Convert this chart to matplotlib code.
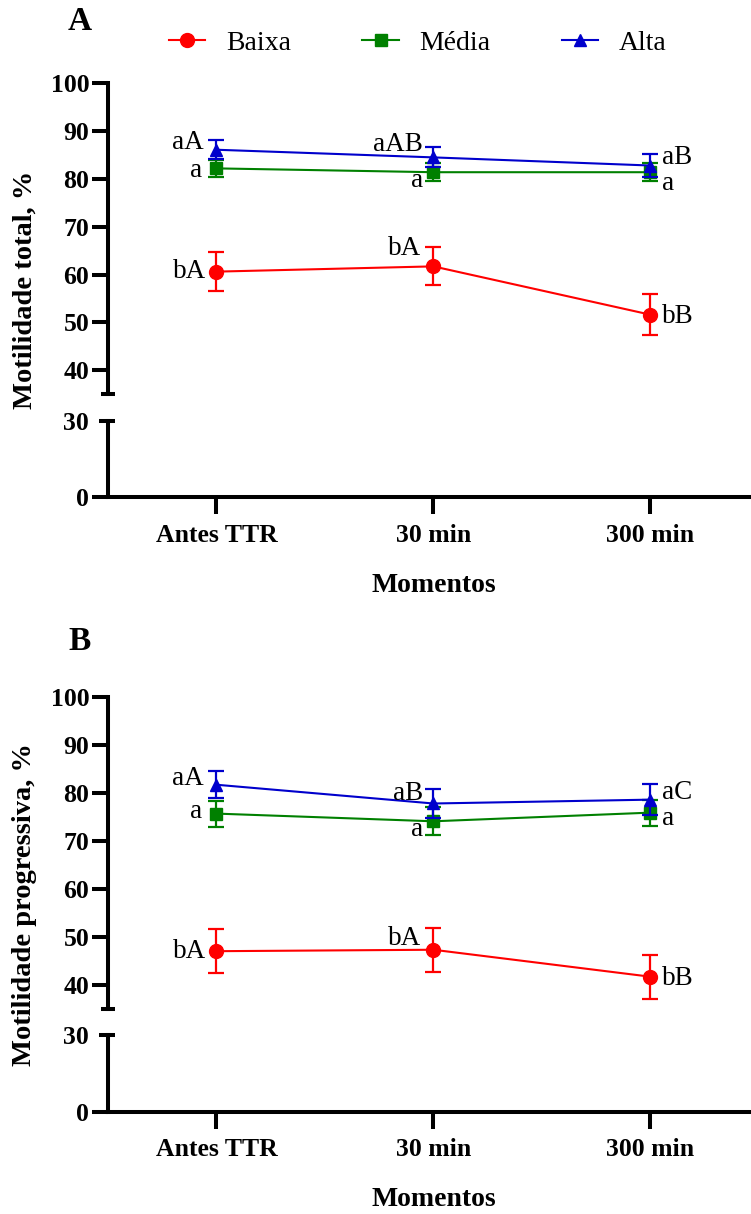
import matplotlib
matplotlib.use("Agg")
import matplotlib.pyplot as plt

plt.rcParams['font.family'] = ['Liberation Serif', 'DejaVu Serif']

# ---------------- data ----------------
categories = ["Antes TTR", "30 min", "300 min"]
series_names = ["Baixa", "Média", "Alta"]
colors = ["#FF0000", "#008000", "#0000CC"]
markers = ["o", "s", "^"]

# Panel A: Motilidade total
total_baixa = [60.6, 61.7, 51.6]
total_media = [82.2, 81.4, 81.4]
total_alta = [86.1, 84.5, 82.8]
total_baixa_err = [4.1, 4.0, 4.3]
total_media_err = [1.8, 1.9, 1.9]
total_alta_err = [2.0, 2.1, 2.4]
total_letters_baixa = ["bA", "bA", "bB"]
total_letters_media = ["a", "a", "a"]
total_letters_alta = ["aA", "aAB", "aB"]

# Panel B: Motilidade progressiva
prog_baixa = [47.1, 47.4, 41.8]
prog_media = [75.7, 74.1, 75.9]
prog_alta = [81.7, 77.8, 78.6]
prog_baixa_err = [4.6, 4.6, 4.6]
prog_media_err = [2.7, 2.9, 2.7]
prog_alta_err = [2.8, 3.0, 3.2]
prog_letters_baixa = ["bA", "bA", "bB"]
prog_letters_media = ["a", "a", "a"]
prog_letters_alta = ["aA", "aB", "aC"]

upper_ticks = [40, 50, 60, 70, 80, 90, 100]
lower_ticks = [0, 30]

# ---------------- layout ----------------
W, H = 751, 1214
fig = plt.figure(figsize=(W / 100, H / 100), dpi=100)

def fx(px):
    return px / W

def fy(py):
    return 1 - py / H

LW = 2.9
TICKFS = 18.5
ANNFS = 19.5

# label offsets in pixels (dx, dy) relative to marker; ha  (order: baixa, media, alta)
offA = {
    0: [(-10, 0, 'right'), (-14, -2, 'right'), (-13, 7, 'right')],
    1: [(-12, 18, 'right'), (-10, -8, 'right'), (-10, 13, 'right')],
    2: [(12, -2, 'left'), (12, -11, 'left'), (12, 8, 'left')],
}
offB = {
    0: [(-10, 0, 'right'), (-14, 2, 'right'), (-13, 6, 'right')],
    1: [(-12, 11, 'right'), (-10, -8, 'right'), (-10, 10, 'right')],
    2: [(12, -2, 'left'), (12, -6, 'left'), (12, 7, 'left')],
}

def make_panel(top_px, brk_top_px, brk_bot_px, bot_px, vals, errs, letters, offs, ylabel, letter, letter_y):
    left, right = 108, 750
    ax_t = fig.add_axes([fx(left), fy(brk_top_px), fx(right - left), (brk_top_px - top_px) / H])
    ax_b = fig.add_axes([fx(left), fy(bot_px), fx(right - left), (bot_px - brk_bot_px) / H])
    x = list(range(len(categories)))
    handles = []
    for ax in (ax_t, ax_b):
        for i in range(3):
            ax.errorbar(x, vals[i], yerr=errs[i], fmt='none', ecolor=colors[i],
                        elinewidth=1.6, capsize=5.5, capthick=1.6, zorder=3 + i)
            h, = ax.plot(x, vals[i], color=colors[i], marker=markers[i], lw=1.5,
                         markersize=10 if markers[i] == 'o' else 9, zorder=3 + i,
                         label=series_names[i])
            if ax is ax_t:
                handles.append(h)
        ax.set_xlim(-0.5, 2.46)
        for s in ('top', 'right'):
            ax.spines[s].set_visible(False)
        ax.spines['left'].set_linewidth(LW)
        ax.spines['bottom'].set_linewidth(LW)
        ax.tick_params(axis='y', length=11.5, width=LW, labelsize=TICKFS, pad=2)
    ax_t.set_ylim(35, 100)
    ax_t.set_yticks(upper_ticks)
    ax_t.set_yticklabels([str(t) for t in upper_ticks], fontweight='bold', fontsize=TICKFS)
    ax_t.spines['bottom'].set_visible(False)
    ax_t.set_xticks([])
    ax_b.set_ylim(0, 30)
    ax_b.set_yticks(lower_ticks)
    ax_b.set_yticklabels([str(t) for t in lower_ticks], fontweight='bold', fontsize=TICKFS)
    ax_b.yaxis.get_major_ticks()[1].tick1line.set_visible(False)
    ax_b.set_xticks(x)
    ax_b.set_xticklabels(categories, fontweight='bold', fontsize=TICKFS)
    ax_b.tick_params(axis='x', length=12, width=LW, pad=7)
    # break caps
    cap = 7 / (right - left)
    ax_t.plot([-cap, cap], [0, 0], transform=ax_t.transAxes, color='black', lw=LW,
              clip_on=False, solid_capstyle='butt')
    ax_b.plot([-cap * 1.3, cap], [1, 1], transform=ax_b.transAxes, color='black', lw=LW,
              clip_on=False, solid_capstyle='butt')
    # letters
    for j in range(3):
        for i in range(3):
            dx, dy, ha = offs[j][i]
            ax_t.annotate(letters[i][j], (x[j], vals[i][j]), xytext=(dx * 0.72, dy * 0.72),
                          textcoords='offset points', ha=ha, va='center',
                          fontsize=ANNFS, zorder=10)
    # labels
    mid = (top_px + bot_px) / 2
    fig.text(fx(25), fy(mid), ylabel, rotation=90, ha='center', va='center',
             fontsize=20.5, fontweight='bold')
    fig.text(fx(434), fy(bot_px + 88), "Momentos", ha='center', va='center',
             fontsize=20, fontweight='bold')
    fig.text(fx(79.5), fy(letter_y), letter, ha='center', va='center',
             fontsize=24, fontweight='bold')
    return handles

hA = make_panel(83.3, 394, 420.7, 497.3,
                [total_baixa, total_media, total_alta],
                [total_baixa_err, total_media_err, total_alta_err],
                [total_letters_baixa, total_letters_media, total_letters_alta],
                offA, "Motilidade total, %", "A", 21)
make_panel(696.7, 1009.4, 1035, 1112,
           [prog_baixa, prog_media, prog_alta],
           [prog_baixa_err, prog_media_err, prog_alta_err],
           [prog_letters_baixa, prog_letters_media, prog_letters_alta],
           offB, "Motilidade progressiva, %", "B", 642)

fig.legend(handles=hA, labels=series_names, loc='center', bbox_to_anchor=(fx(418), fy(43)),
           ncol=3, frameon=False, fontsize=20, handlelength=1.3, handletextpad=0.76,
           columnspacing=2.56)

fig.savefig("out.png", dpi=100)
